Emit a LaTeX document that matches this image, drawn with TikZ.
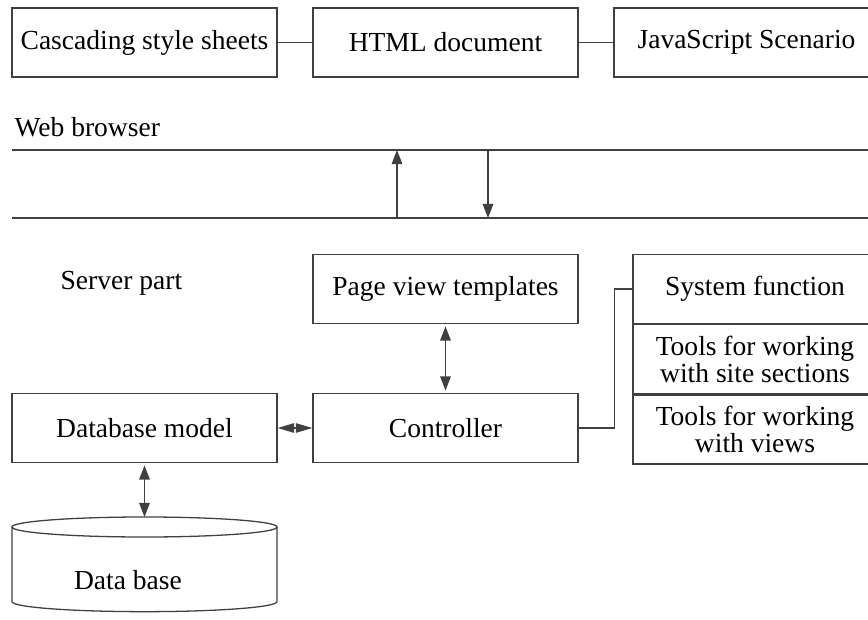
\documentclass[tikz,border=0pt]{standalone}
\usepackage{fontspec}
\setmainfont{Liberation Serif}
\usetikzlibrary{positioning,arrows.meta}

\begin{document}
\begin{tikzpicture}[
    font=\fontsize{23.5}{23}\selectfont,
    line width=1.1pt,
    wire/.style={draw=black!75},
    onearrow/.style={wire, -{Triangle[length=12pt,width=9pt]}},
    twoarrow/.style={wire, {Triangle[length=12pt,width=9pt]}-{Triangle[length=12pt,width=9pt]}},
    shortarrow/.style={wire, {Triangle[length=14pt,width=8pt]}-{Triangle[length=14pt,width=8pt]}},
    box/.style={wire, minimum width=7.95cm, minimum height=2.07cm, inner sep=0pt},
    stackbox/.style={wire, minimum width=7.32cm, minimum height=2.07cm, inner sep=0pt, align=center},
    plain/.style={inner sep=0pt, anchor=west}
  ]
    \clip (0,0) rectangle (26.04,-18.6);

    \node [box] (css)  at (4.335,-1.275)  {Cascading style sheets};
    \node [box] (html) at (13.365,-1.275) {HTML document};
    \node [box] (js)   at (22.395,-1.275) {JavaScript Scenario};

    \node [plain] (browser) at (0.42,-3.81) {Web browser};
    \coordinate (top w) at (0.36,-4.5);  \coordinate (top e) at (26.6,-4.5);
    \coordinate (bot w) at (0.36,-6.54); \coordinate (bot e) at (26.6,-6.54);
    \coordinate (up s)   at (11.91,-6.54); \coordinate (up n)   at (11.91,-4.5);
    \coordinate (down n) at (14.64,-4.5);  \coordinate (down s) at (14.64,-6.54);

    \node [plain] (server) at (1.8,-8.49) {Server part};
    \node [box] (pvt)     at (13.365,-8.67)  {Page view templates};
    \node [box] (ctrl)    at (13.365,-12.84) {Controller};
    \node [box] (dbmodel) at (4.335,-12.84)  {Database model};

    \node [stackbox] (sysfn) at (22.65,-8.67) {System function};
    \node [stackbox, below=0pt of sysfn] (sections) {Tools for working\\ with site sections};
    \node [stackbox, below=0pt of sections] (views) {Tools for working\\ with views};

    % data base cylinder
    \coordinate (dbtop) at (4.335,-15.51);
    \draw [wire] (0.36,-15.81) -- (0.36,-18.05)
      arc [start angle=180, end angle=360, x radius=3.975, y radius=0.3] -- (8.31,-15.81);
    \draw [wire] (4.335,-15.81) ellipse [x radius=3.975, y radius=0.3];
    \node [inner sep=0pt] (dbase) at (3.84,-17.4) {Data base};

    \draw [wire] (css) -- (html);
    \draw [wire] (html) -- (js);
    \draw [wire] (top w) -- (top e);
    \draw [wire] (bot w) -- (bot e);
    \draw [onearrow] (up s) -- (up n);
    \draw [onearrow] (down n) -- (down s);
    \draw [twoarrow, shorten <=2pt, shorten >=2pt] (pvt) -- (ctrl);
    \draw [shortarrow] (dbmodel) -- (ctrl);
    \draw [twoarrow, shorten <=2pt] (dbmodel) -- (dbtop);
    \draw [wire] (ctrl.east) -- ++(1.08,0) |- (sysfn.west);
\end{tikzpicture}
\end{document}
